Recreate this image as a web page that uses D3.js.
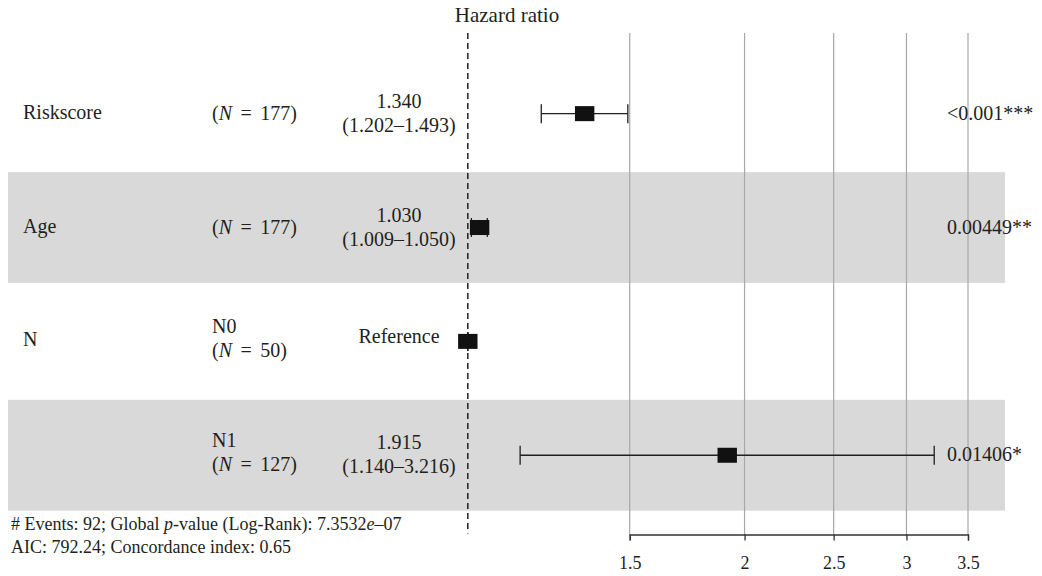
<!DOCTYPE html>
<html>
<head>
<meta charset="utf-8">
<script src="https://cdn.jsdelivr.net/npm/d3@7.9.0/dist/d3.min.js"></script>
<style>
  body { margin: 0; background: #fff; }
  svg { display: block; font-family: "Liberation Serif", "DejaVu Serif", serif; }
</style>
</head>
<body>
<div id="chart"></div>
<script>
// Data
const variables = ['Riskscore', 'Age', 'N', ''];
const levels = ['', '', 'N0', 'N1'];
const counts = [177, 177, 50, 127];
const hazard = [1.340, 1.030, 1, 1.915];
const lower = [1.202, 1.009, 1, 1.140];
const upper = [1.493, 1.050, 1, 3.216];
const pvalues = ['<0.001***', '0.00449**', '', '0.01406*'];
const isReference = [false, false, true, false];
const tickValues = [1.5, 2, 2.5, 3, 3.5];

const width = 1042, height = 576;
const ink = '#231f20';

const svg = d3.select('#chart').append('svg')
    .attr('width', width)
    .attr('height', height);

// Scales
const x = d3.scaleLog().domain([1.5, 3.5]).range([629.7, 968]);
const y = d3.scaleBand().domain(d3.range(variables.length)).range([56.7, 512.2]);
const mid = (i) => y(i) + y.bandwidth() / 2;

const plotTop = 33, plotBottom = 534.5;

// Shaded rows
svg.append('g').selectAll('rect')
    .data(d3.range(variables.length).filter(i => i % 2 === 1))
    .join('rect')
    .attr('x', 8)
    .attr('width', 1005 - 8)
    .attr('y', i => mid(i) - 55.4)
    .attr('height', 110.8)
    .attr('fill', '#d9d9d9');

// Vertical gridlines
svg.append('g').selectAll('line')
    .data(tickValues)
    .join('line')
    .attr('x1', d => x(d)).attr('x2', d => x(d))
    .attr('y1', plotTop).attr('y2', plotBottom)
    .attr('stroke', '#a8a8a8')
    .attr('stroke-width', 1.2);

// Reference line at HR = 1
svg.append('line')
    .attr('x1', x(1)).attr('x2', x(1))
    .attr('y1', plotTop).attr('y2', plotBottom - 1)
    .attr('stroke', ink)
    .attr('stroke-width', 1.5)
    .attr('stroke-dasharray', '6,4');

// Axis
const axis = d3.axisBottom(x)
    .tickValues(tickValues)
    .tickFormat(d3.format('~g'))
    .tickSize(6)
    .tickSizeOuter(6);
const ax = svg.append('g')
    .attr('transform', `translate(0,${plotBottom})`)
    .call(axis);
ax.select('.domain').attr('stroke', '#333').attr('stroke-width', 1.3);
ax.selectAll('.tick line').attr('stroke', '#333').attr('stroke-width', 1.3);
ax.selectAll('.tick text')
    .attr('y', 0).attr('dy', 0)
    .attr('transform', 'translate(0,34)')
    .attr('fill', ink)
    .style('font-family', '"Liberation Serif", serif')
    .style('font-size', '18px');

// Title
svg.append('text')
    .attr('x', 507).attr('y', 22)
    .attr('text-anchor', 'middle')
    .attr('fill', ink)
    .style('font-size', '21px')
    .text('Hazard ratio');

// Confidence intervals and boxes
const rows = d3.range(variables.length);
const ci = svg.append('g');
ci.selectAll('line.whisk')
    .data(rows)
    .join('line')
    .attr('class', 'whisk')
    .attr('x1', i => x(lower[i])).attr('x2', i => x(upper[i]))
    .attr('y1', i => mid(i)).attr('y2', i => mid(i))
    .attr('stroke', ink).attr('stroke-width', 1.3);
['lo', 'hi'].forEach(side => {
  ci.selectAll('line.cap-' + side)
      .data(rows)
      .join('line')
      .attr('class', 'cap-' + side)
      .attr('x1', i => x(side === 'lo' ? lower[i] : upper[i]))
      .attr('x2', i => x(side === 'lo' ? lower[i] : upper[i]))
      .attr('y1', i => mid(i) - 9.5).attr('y2', i => mid(i) + 9.5)
      .attr('stroke', ink).attr('stroke-width', 1.3);
});
ci.selectAll('rect')
    .data(rows)
    .join('rect')
    .attr('x', i => x(hazard[i]) - 9.7)
    .attr('y', i => mid(i) - 7.5)
    .attr('width', 19.4)
    .attr('height', 15)
    .attr('fill', '#111');

// Text columns
const txt = svg.append('g').attr('fill', ink).style('font-size', '20px');

// variable names
txt.selectAll('text.var')
    .data(rows.filter(i => variables[i]))
    .join('text')
    .attr('class', 'var')
    .attr('x', 23)
    .attr('y', i => mid(i) + 5)
    .text(i => variables[i]);

// N column
rows.forEach(i => {
  const twoLines = levels[i] !== '';
  const t = txt.append('text').attr('x', 212).style('word-spacing', '3.5px');
  if (twoLines) {
    t.append('tspan').attr('x', 212).attr('y', mid(i) - 8).text(levels[i]);
  }
  const line = t.append('tspan').attr('x', 212).attr('y', twoLines ? mid(i) + 16 : mid(i) + 6);
  line.append('tspan').text('(');
  line.append('tspan').style('font-style', 'italic').text('N');
  line.append('tspan').text(` = ${counts[i]})`);
});

// estimate column
const fmt = d3.format('.3f');
rows.forEach(i => {
  if (isReference[i]) {
    txt.append('text')
        .attr('x', 399).attr('y', mid(i) + 2)
        .attr('text-anchor', 'middle')
        .text('Reference');
  } else {
    const t = txt.append('text').attr('text-anchor', 'middle');
    t.append('tspan').attr('x', 399).attr('y', mid(i) - 6).text(fmt(hazard[i]));
    t.append('tspan').attr('x', 399).attr('y', mid(i) + 18)
        .text(`(${fmt(lower[i])}\u2013${fmt(upper[i])})`);
  }
});

// p-values
txt.selectAll('text.p')
    .data(rows.filter(i => pvalues[i]))
    .join('text')
    .attr('class', 'p')
    .attr('x', 947)
    .attr('y', i => mid(i) + 6)
    .text(i => pvalues[i]);

// Footer
const foot = svg.append('g').attr('fill', ink).style('font-size', '18px');
const f1 = foot.append('text').attr('x', 11).attr('y', 530);
f1.append('tspan').text('# Events: 92; Global ');
f1.append('tspan').style('font-style', 'italic').text('p');
f1.append('tspan').text('-value (Log-Rank): 7.3532');
f1.append('tspan').style('font-style', 'italic').text('e');
f1.append('tspan').text('\u201307');
foot.append('text').attr('x', 11).attr('y', 553)
    .text('AIC: 792.24; Concordance index: 0.65');
</script>
</body>
</html>
